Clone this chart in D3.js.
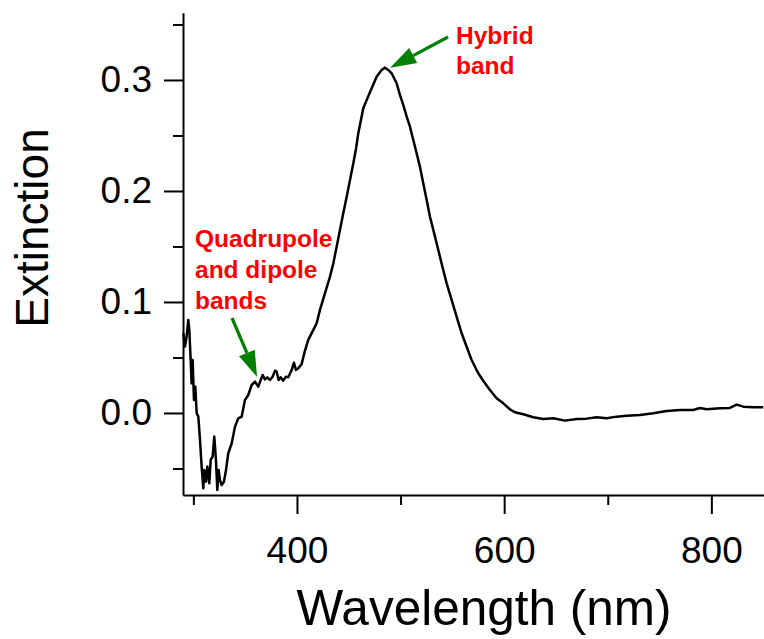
<!DOCTYPE html>
<html>
<head>
<meta charset="utf-8">
<script src="https://cdn.jsdelivr.net/npm/d3@7"></script>
<style>
  body { margin: 0; background: #fff; }
  svg text { font-family: "Liberation Sans", Arial, sans-serif; }
</style>
</head>
<body>
<div class="canvas"></div>
<script>
var width = 764,
   height = 639;

// spectrum
var wavelength = [
   290.3, 291.9, 293.5, 295.1, 296.1, 297.4, 298.3, 299.3, 300.6, 301.9,
   303.2, 304.8, 306.4, 308.0, 309.6, 310.6, 312.2, 313.5, 315.4, 316.7,
   318.6, 320.2, 321.8, 323.1, 324.4, 325.7, 327.3, 329.5, 331.5, 333.7,
   337.0, 340.2, 343.4, 346.6, 349.8, 353.0, 356.3, 359.5, 362.7, 365.0,
   366.9, 369.1, 371.4, 373.9, 376.5, 378.8, 380.4, 382.3, 384.3, 386.8,
   389.4, 391.6, 394.9, 397.1, 399.0, 401.3, 404.5, 407.7, 410.9, 415.8,
   419.0, 422.2, 427.0, 431.9, 435.1, 438.3, 441.5, 444.7, 448.0, 451.2,
   454.4, 457.0, 459.2, 462.4, 464.0, 467.3, 472.1, 476.9, 481.7, 485.0,
   488.1, 491.4, 496.2, 499.4, 502.6, 505.9, 509.1, 512.3, 515.5, 518.7,
   521.9, 525.2, 528.4, 531.6, 534.8, 538.0, 541.2, 544.5, 549.3, 554.1,
   559.0, 563.8, 568.6, 573.4, 576.6, 581.5, 586.3, 592.7, 599.2, 605.6,
   610.4, 618.5, 628.1, 637.8, 647.4, 658.7, 670.0, 679.6, 689.3, 698.9,
   708.6, 718.2, 731.1, 743.9, 756.8, 769.7, 782.5, 789.0, 795.4, 808.3,
   817.9, 824.4, 830.8, 840.4, 850.1
];
var extinction = [
   0.0718, 0.0598, 0.0688, 0.0838, 0.0748, 0.0477, 0.0267, 0.0477, 0.0117, 0.0237,
   -0.0003, -0.0033, -0.0243, -0.0483, -0.0679, -0.0514, -0.0619, -0.0483, -0.0634, -0.0423,
   -0.0393, -0.0213, -0.0423, -0.0694, -0.0514, -0.0604, -0.0649, -0.0619, -0.0514, -0.0363,
   -0.0273, -0.0123, -0.0048, -0.0033, 0.0117, 0.0162, 0.0252, 0.0282, 0.0237, 0.0297,
   0.0342, 0.0303, 0.0321, 0.0297, 0.0327, 0.0381, 0.0372, 0.0297, 0.0321, 0.0291,
   0.0327, 0.0321, 0.0387, 0.0453, 0.0387, 0.0402, 0.0440, 0.0560, 0.0658, 0.0748,
   0.0808, 0.0928, 0.1078, 0.1228, 0.1348, 0.1498, 0.1649, 0.1799, 0.1949, 0.2099,
   0.2249, 0.2380, 0.2520, 0.2669, 0.2745, 0.2820, 0.2925, 0.3030, 0.3090, 0.3111,
   0.3090, 0.3060, 0.2970, 0.2865, 0.2775, 0.2669, 0.2579, 0.2459, 0.2340, 0.2219,
   0.2069, 0.1919, 0.1768, 0.1649, 0.1529, 0.1408, 0.1288, 0.1168, 0.1018, 0.0868,
   0.0718, 0.0597, 0.0477, 0.0387, 0.0335, 0.0267, 0.0207, 0.0132, 0.0087, 0.0033,
   0.0006, -0.0012, -0.0039, -0.0054, -0.0048, -0.0069, -0.0054, -0.0051, -0.0039, -0.0048,
   -0.0033, -0.0024, -0.0018, -0.0003, 0.0018, 0.0027, 0.0027, 0.0045, 0.0033, 0.0042,
   0.0045, 0.0075, 0.0057, 0.0051, 0.0051
];

var xMajor = [400, 600, 800],
   xMinor = [300, 500, 700];
var yMajor = [0.0, 0.1, 0.2, 0.3],
   yMinor = [-0.05, 0.05, 0.15, 0.25, 0.35];

// annotations: text lines and the point each arrow goes to
var hybridLines = ['Hybrid', 'band'];
var hybridTip = [490, 0.311];
var quadLines = ['Quadrupole', 'and dipole', 'bands'];
var quadTip = [361.5, 0.0325];

var x = d3.scaleLinear()
   .domain([290, 851])
   .range([183, 764.2]);

var y = d3.scaleLinear()
   .domain([-0.0739, 0.3606])
   .range([495, 12.7]);

var svg = d3.select('.canvas')
   .append('svg')
   .attr('width', width)
   .attr('height', height);

// x axis
var xAxisG = svg.append('g')
   .attr('transform', 'translate(0,495)');
xAxisG.call(d3.axisBottom(x).tickValues(xMajor).tickSize(19).tickSizeOuter(0).tickPadding(23).tickFormat(d3.format('d')));
var xMinorG = svg.append('g')
   .attr('transform', 'translate(0,495)');
xMinorG.call(d3.axisBottom(x).tickValues(xMinor).tickSize(10).tickSizeOuter(0).tickFormat(''));
xMinorG.select('.domain').remove();

// y axis
var yAxisG = svg.append('g')
   .attr('transform', 'translate(183,0)');
yAxisG.call(d3.axisLeft(y).tickValues(yMajor).tickSize(19).tickSizeOuter(0).tickPadding(12).tickFormat(d3.format('.1f')));
var yMinorG = svg.append('g')
   .attr('transform', 'translate(183,0)');
yMinorG.call(d3.axisLeft(y).tickValues(yMinor).tickSize(10).tickSizeOuter(0).tickFormat(''));
yMinorG.select('.domain').remove();

svg.selectAll('.domain, .tick line')
   .attr('stroke', '#000')
   .attr('stroke-width', 2);
svg.selectAll('.tick text')
   .attr('fill', '#000')
   .style('font-size', '37px');

// axis titles
svg.append('text')
   .attr('x', 484)
   .attr('y', 625)
   .attr('text-anchor', 'middle')
   .style('font-size', '49.5px')
   .text('Wavelength (nm)');

svg.append('text')
   .attr('transform', 'translate(48,228) rotate(-90)')
   .attr('text-anchor', 'middle')
   .style('font-size', '46px')
   .text('Extinction');

// spectrum
var line = d3.line()
   .x((d) => x(d[0]))
   .y((d) => y(d[1]));

svg.append('path')
   .datum(d3.zip(wavelength, extinction))
   .attr('d', line)
   .attr('fill', 'none')
   .attr('stroke', '#000')
   .attr('stroke-width', 2.5)
   .attr('stroke-linejoin', 'round');

// arrows
function arrow(x0, y0, x1, y1) {
   var dx = x1 - x0, dy = y1 - y0;
   var len = Math.sqrt(dx * dx + dy * dy);
   var ux = dx / len, uy = dy / len;
   var headLen = 26, headW = 8.5;
   var bx = x1 - ux * headLen, by = y1 - uy * headLen;
   svg.append('line')
      .attr('x1', x0).attr('y1', y0)
      .attr('x2', bx).attr('y2', by)
      .attr('stroke', '#008000')
      .attr('stroke-width', 3.2);
   svg.append('path')
      .attr('d', 'M' + x1 + ',' + y1 +
         'L' + (bx - uy * headW) + ',' + (by + ux * headW) +
         'L' + (bx + uy * headW) + ',' + (by - ux * headW) + 'Z')
      .attr('fill', '#008000');
}

arrow(448, 37, x(hybridTip[0]), y(hybridTip[1]));
arrow(232, 318, x(quadTip[0]), y(quadTip[1]));

// labels
svg.append('g')
   .selectAll('text')
   .data(hybridLines)
   .enter().append('text')
      .attr('x', 456)
      .attr('y', (d, i) => 43.5 + i * 30.5)
      .attr('fill', '#ff0000')
      .style('font-size', '24.5px')
      .style('font-weight', 'bold')
      .text((d) => d);

svg.append('g')
   .selectAll('text')
   .data(quadLines)
   .enter().append('text')
      .attr('x', 195)
      .attr('y', (d, i) => 247 + i * 30.8)
      .attr('fill', '#ff0000')
      .style('font-size', '24.5px')
      .style('font-weight', 'bold')
      .text((d) => d);
</script>
</body>
</html>
